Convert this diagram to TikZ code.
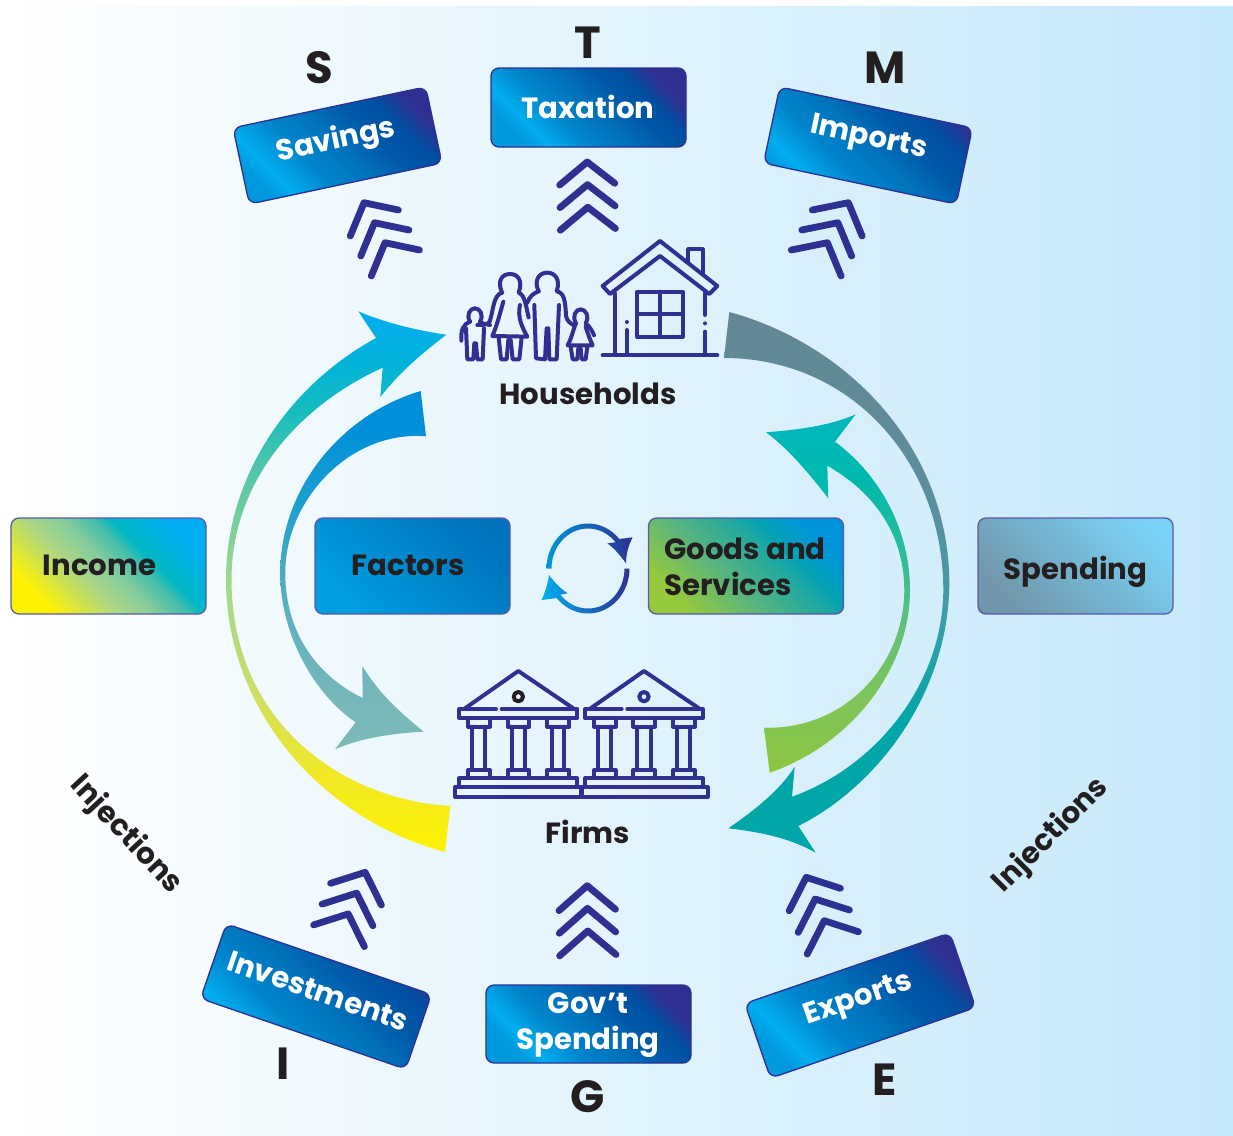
\documentclass[tikz,border=0pt]{standalone}
\usepackage{fontspec}
\setmainfont{Poppins}
\definecolor{ink}{HTML}{231F20}
\definecolor{dkblue}{HTML}{2E3192}
\definecolor{bgright}{HTML}{C5E8FA}
% box shadings (axis at 45 degrees: the extreme corners sit at 25bp and 75bp)
\pgfdeclareverticalshading{blueshade}{100bp}{rgb(0bp)=(0,.60,.87); rgb(25bp)=(0,.60,.87); rgb(30bp)=(0,.682,.937); rgb(39.4bp)=(0,.53,.81); rgb(50bp)=(0,.447,.737); rgb(60.6bp)=(0,.345,.66); rgb(68bp)=(0,.31,.635); rgb(75bp)=(.18,.19,.57); rgb(100bp)=(.18,.19,.57)}
\pgfdeclareverticalshading{incomeshade}{100bp}{rgb(0bp)=(1,.95,0); rgb(25bp)=(1,.95,0); rgb(42bp)=(.66,.835,.54); rgb(50bp)=(.52,.80,.61); rgb(58bp)=(.25,.74,.67); rgb(62bp)=(0,.725,.776); rgb(75bp)=(0,.68,.94); rgb(100bp)=(0,.68,.94)}
\pgfdeclareverticalshading{factorshade}{100bp}{rgb(0bp)=(0,.62,.88); rgb(25bp)=(0,.62,.88); rgb(75bp)=(0,.45,.74); rgb(100bp)=(0,.45,.74)}
\pgfdeclareverticalshading{goodsshade}{100bp}{rgb(0bp)=(.59,.79,.235); rgb(25bp)=(.59,.79,.235); rgb(42bp)=(.36,.71,.486); rgb(58bp)=(.125,.66,.63); rgb(65bp)=(0,.63,.72); rgb(75bp)=(0,.585,.855); rgb(100bp)=(0,.585,.855)}
\pgfdeclareverticalshading{spendshade}{100bp}{rgb(0bp)=(.44,.59,.67); rgb(25bp)=(.44,.59,.67); rgb(75bp)=(.48,.82,.96); rgb(100bp)=(.48,.82,.96)}
% arrow shadings
\pgfdeclareverticalshading{arrowA}{100bp}{rgb(0bp)=(1,.95,0); rgb(25bp)=(1,.95,0); rgb(32.6bp)=(.94,.91,.16); rgb(40.9bp)=(.78,.87,.42); rgb(50.1bp)=(.63,.85,.55); rgb(59.4bp)=(.36,.78,.66); rgb(65.9bp)=(.08,.74,.75); rgb(70.5bp)=(0,.70,.86); rgb(75bp)=(0,.68,.94); rgb(100bp)=(0,.68,.94)}
\pgfdeclareverticalshading{arrowB}{100bp}{rgb(0bp)=(.49,.73,.72); rgb(25bp)=(.49,.73,.72); rgb(31.8bp)=(.47,.72,.73); rgb(45.8bp)=(.35,.69,.76); rgb(59.8bp)=(.10,.62,.81); rgb(69.5bp)=(0,.565,.85); rgb(100bp)=(0,.565,.85)}
\pgfdeclareverticalshading{arrowC}{100bp}{rgb(0bp)=(0,.65,.65); rgb(37.3bp)=(0,.65,.66); rgb(46.5bp)=(.23,.62,.66); rgb(57.6bp)=(.36,.56,.62); rgb(75bp)=(.39,.53,.58); rgb(100bp)=(.39,.53,.58)}
\pgfdeclareverticalshading{arrowD}{100bp}{rgb(0bp)=(.55,.78,.25); rgb(25bp)=(.55,.78,.25); rgb(35bp)=(.50,.77,.35); rgb(46.3bp)=(.38,.75,.48); rgb(54.7bp)=(.19,.74,.60); rgb(65.8bp)=(0,.725,.68); rgb(75bp)=(0,.72,.74); rgb(100bp)=(0,.72,.74)}
\tikzset{
  boxbase/.style={draw=dkblue,line width=1.3pt,rounded corners=8pt,shade,shading angle=-45},
  bluebox/.style={boxbase,shading=blueshade,minimum width=#1,minimum height=77pt},
  sidebox/.style={boxbase,draw=dkblue!80,minimum width=195pt,minimum height=96pt},
  lbl/.style={font=\bfseries\fontsize{29.2}{36}\selectfont,text=ink,inner sep=0pt,align=left},
  wlbl/.style={lbl,text=white,align=center},
  letter/.style={font=\bfseries\fontsize{45}{45}\selectfont,text=ink,inner sep=0pt},
  chev/.style={draw=dkblue,line width=6.8pt,line cap=round,line join=round},
  icon/.style={draw=dkblue,line width=4pt,line cap=round,line join=round},
}
\newcommand{\chevrons}[5]{% apex, left end, right end, dx, dy
  \foreach \k in {0,1,2}
    \draw[chev,shift={(\k*#4,\k*#5)}] (#2) -- (#1) -- (#3);}
\begin{document}
\begin{tikzpicture}[x=1pt,y=-1pt]
\useasboundingbox (0,0) rectangle (1233,1135);
\fill[white] (0,0) rectangle (1233,1135);
\path[left color=white,right color=bgright] (0,6) rectangle (1233,1135);

% main curved arrows
\shade[shading=arrowA] (376,338) .. controls (290,385) and (226,475) .. (226,580)
  .. controls (226,700) and (310,815) .. (445,852) -- (450.3,806)
  .. controls (345,800) and (232,725) .. (231.5,580)
  .. controls (231.5,480) and (300,405) .. (382.7,367.7) -- (380.3,397)
  .. controls (400,372) and (420,355) .. (446.3,334.7)
  .. controls (420,331) and (385,323) .. (358.3,311.3) -- cycle;
\shade[shading=arrowB] (420.7,391) .. controls (340,415) and (280,490) .. (280.3,573)
  .. controls (280,635) and (315,695) .. (355.7,722.3) -- (335,749.3)
  .. controls (360,738) and (395,733) .. (423.7,731.7)
  .. controls (400,712) and (380,695) .. (362.3,666) -- (362.7,698)
  .. controls (315,675) and (285,630) .. (285.3,573)
  .. controls (285,500) and (350,430) .. (426,436.3) -- cycle;
\shade[shading=arrowC] (729.3,312) .. controls (850,345) and (949,450) .. (949.3,583)
  .. controls (949,690) and (880,785) .. (798.3,826) -- (815.7,852.7)
  .. controls (790,838) and (760,832) .. (728.3,828.3)
  .. controls (755,810) and (780,790) .. (794.7,766.7) -- (792,796.7)
  .. controls (880,765) and (943,680) .. (943.3,590)
  .. controls (943,460) and (850,358) .. (724,358) -- cycle;
\shade[shading=arrowD] (766,432.3) .. controls (795,430) and (830,426) .. (855.7,414.3)
  -- (835,441.7) .. controls (880,475) and (910,530) .. (910,590)
  .. controls (910,670) and (850,745) .. (769.7,772.7) -- (764,727.7)
  .. controls (845,730) and (904,665) .. (904.3,590)
  .. controls (904,530) and (870,490) .. (827.3,465.7) -- (828.3,498.3)
  .. controls (810,475) and (790,450) .. (766,432.3) -- cycle;

% chevrons
\chevrons{587.2,162}{559.7,185}{614.8,183.3}{0.3}{22.6}
\chevrons{364,202.7}{350.3,236}{398.4,210}{10.5}{20}
\chevrons{848.4,202.7}{812.3,210}{862.1,236}{-10.5}{20}
\chevrons{587.2,885.7}{559,910.7}{615.4,909.3}{0.3}{22.6}
\chevrons{365.2,872.3}{330.6,883.3}{381.4,905}{-8.5}{20.8}
\chevrons{806.2,877.3}{789.2,910.7}{840.4,888.3}{9}{21.7}

% boxes
\node[bluebox=195pt,minimum height=79pt] (taxbox) at (588.5,107.5) {};
\node[bluebox=197pt,minimum height=78pt,rotate=12] (savbox) at (337.5,145.5) {};
\node[bluebox=197pt,minimum height=78pt,rotate=-12] (impbox) at (868,145.5) {};
\node[bluebox=205pt,minimum height=78pt] (govbox) at (588.5,1024) {};
\node[bluebox=217pt,minimum height=79pt,rotate=-19] (invbox) at (316,996.5) {};
\node[bluebox=217pt,minimum height=79pt,rotate=19] (expbox) at (860.2,1005.5) {};
\node[sidebox,shading=incomeshade] (incbox) at (108.5,566) {};
\node[sidebox,shading=factorshade] (facbox) at (412.5,566) {};
\node[sidebox,shading=goodsshade] (goodbox) at (746,566) {};
\node[sidebox,shading=spendshade] (spendbox) at (1075.5,566) {};

% box labels
\node[wlbl] (taxtxt) at (588,107) {Taxation};
\node[wlbl,rotate=12] (savtxt) at (336,141) {Savings};
\node[wlbl,rotate=-12] (imptxt) at (868.5,139) {Imports};
\node[wlbl] (govtxt) at (588,1025.5) {Gov’t\\Spending};
\node[wlbl,rotate=-19] (invtxt) at (318,991) {Investments};
\node[wlbl,rotate=19] (exptxt) at (858.5,1000) {Exports};
\node[lbl] (inctxt) at (99.5,565) {Income};
\node[lbl] (factxt) at (408,565) {Factors};
\node[lbl] (goodtxt) at (745,567) {Goods and\\Services};
\node[lbl] (spendtxt) at (1075.5,572) {Spending};
\node[lbl] (hhtxt) at (588,394) {Households};
\node[lbl] (firmtxt) at (588,831.5) {Firms};
\node[lbl,font=\bfseries\fontsize{29.5}{32}\selectfont,rotate=-47] (injl) at (126,835) {Injections};
\node[lbl,font=\bfseries\fontsize{29.5}{32}\selectfont,rotate=45] (injr) at (1051,835.5) {Injections};

% letters
\node[letter] (ls) at (319,67.5) {S};
\node[letter] (lt) at (588,43) {T};
\node[letter] (lm) at (885,67.5) {M};
\node[letter] (li) at (283,1064) {I};
\node[letter] (lg) at (588,1096.5) {G};
\node[letter] (le) at (885,1080) {E};

% cycle icon
\shade[left color={rgb,255:red,0;green,149;blue,218},right color=dkblue]
  ([shift={(588,568.5)}]180:41.5 and 45) arc[start angle=180,end angle=319,x radius=41.5,y radius=45]
  -- (632.7,537.3) .. controls (628,546) and (626,555) .. (626,563.3)
  .. controls (620,555) and (614,548) .. (607.3,543.3)
  -- ([shift={(588,568.5)}]319:36.5 and 40) arc[start angle=319,end angle=180,x radius=36.5,y radius=40] -- cycle;
\shade[left color={rgb,255:red,0;green,174;blue,239},right color=dkblue]
  ([shift={(588,568.5)}]0:41.5 and 45) arc[start angle=0,end angle=139,x radius=41.5,y radius=45]
  -- (541.7,600) .. controls (545,592) and (548,584) .. (549,575)
  .. controls (555,583) and (561,589) .. (567.7,593.3)
  -- ([shift={(588,568.5)}]139:36.5 and 40) arc[start angle=139,end angle=0,x radius=36.5,y radius=40] -- cycle;

% households icon
\begin{scope}[shift={(440,230)},scale=0.3333,every path/.style={icon}]
  \path (660,33) -- (488,168) -- (510,192) -- (660,78) -- (808,192) -- (832,168) -- cycle;
  \path (745,95) -- (745,58) -- (788,58) -- (788,128);
  \path (525,190) -- (525,375);
  \path (488,376) -- (832,376);
  \path (560,300) -- (560,372);
  \path (560,276) -- (560,276.1);
  \path (795,190) -- (795,255);
  \path (795,280) -- (795,280.1);
  \path (795,305) -- (795,375);
  \path (592,185) rectangle (728,320);
  \path (660,185) -- (660,320);
  \path (592,252) -- (728,252);
  % mother
  \path (186,188) .. controls (170,150) and (188,132) .. (210,132) .. controls (232,132) and (250,150) .. (236,188)
     .. controls (255,195) and (258,230) .. (266,262);
  \path (186,188) .. controls (160,195) and (160,240) .. (150,272) .. controls (146,285) and (130,285) .. (112,285);
  \path (190,215) .. controls (180,250) and (170,290) .. (157,318) -- (262,320) .. controls (245,290) and (232,260) .. (240,225);
  \path (176,322) -- (183,388) -- (200,388) -- (205,330);
  \path (212,330) -- (218,388) -- (238,388) -- (245,322);
  % father
  \path (296,184) .. controls (280,150) and (298,128) .. (322,128) .. controls (346,128) and (362,150) .. (350,184)
     .. controls (372,188) and (376,210) .. (378,258) .. controls (382,275) and (392,280) .. (400,285);
  \path (296,184) .. controls (280,190) and (268,200) .. (262,218);
  \path (283,225) -- (288,385) -- (315,388) -- (320,295);
  \path (325,295) -- (328,388) -- (350,388) -- (357,225);
  % boy
  \path (90,275) .. controls (78,255) and (90,235) .. (105,235) .. controls (120,235) and (132,255) .. (120,275);
  \path (90,275) .. controls (70,282) and (62,300) .. (64,332);
  \path (120,278) -- (150,285);
  \path (78,295) -- (82,388) -- (100,388) -- (103,340);
  \path (108,340) -- (112,388) -- (128,388) -- (132,295);
  % girl
  \path (408,280) .. controls (395,258) and (408,238) .. (422,238) .. controls (436,238) and (450,258) .. (437,280)
     .. controls (450,290) and (458,305) .. (462,316);
  \path (408,280) .. controls (402,290) and (395,325) .. (383,346) -- (458,346) .. controls (448,325) and (442,305) .. (437,290);
  \path (392,350) -- (398,388) -- (412,388) -- (415,355);
  \path (422,355) -- (425,388) -- (437,388) -- (442,350);
\end{scope}

% firms icon
\begin{scope}[shift={(440,660)},scale=0.3333,every path/.style={icon}]
  \foreach \s/\c in {0/ink,377/dkblue}{
    \begin{scope}[shift={(\s,0)}]
      \path (75,145) -- (235,33) -- (400,145);
      \path (168,147) -- (58,147) -- (58,174) -- (412,174) -- (412,147) -- (185,147);
      \path[draw=\c] (235,110) circle[radius=14];
      \path (85,175) rectangle (150,200);
      \path (203,175) rectangle (268,200);
      \path (322,175) rectangle (388,200);
      \path (97,200) -- (97,330);  \path (135,200) -- (135,330);
      \path (215,200) -- (215,330); \path (255,200) -- (255,330);
      \path (335,200) -- (335,330); \path (373,200) -- (373,330);
      \path (85,330) rectangle (150,355);
      \path (203,330) rectangle (268,355);
      \path (322,330) rectangle (388,355);
      \path (58,355) rectangle (412,382);
      \path (45,382) rectangle (426,410);
    \end{scope}}
\end{scope}
\end{tikzpicture}
\end{document}
